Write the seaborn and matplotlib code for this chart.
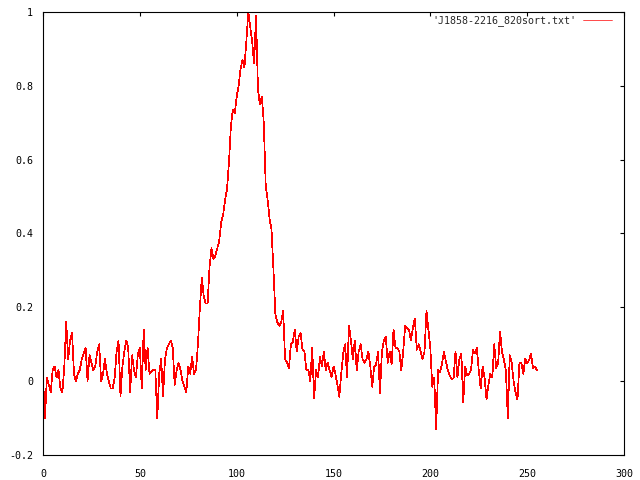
import matplotlib
matplotlib.use('Agg')
import matplotlib.pyplot as plt
import numpy as np
import pandas as pd
import seaborn as sns

# pulse profile, one value per phase bin (0..255)
flux = [
    0.01, -0.10, 0.01, -0.01, -0.03, 0.03, 0.04, 0.01, 0.03, -0.02,
    -0.03, 0.04, 0.16, 0.06, 0.11, 0.13, 0.02, 0.00, 0.02, 0.03,
    0.06, 0.075, 0.09, 0.00, 0.07, 0.05, 0.03, 0.04, 0.08, 0.10,
    0.00, 0.02, 0.06, 0.02, 0.00, -0.02, -0.02, 0.01, 0.08, 0.11,
    -0.04, 0.04, 0.08, 0.11, 0.09, -0.03, 0.07, 0.03, 0.01, 0.075,
    0.09, -0.02, 0.14, 0.03, 0.09, 0.02, 0.025, 0.03, 0.03, -0.10,
    0.02, 0.06, -0.04, 0.06, 0.09, 0.10, 0.11, 0.09, -0.01, 0.03,
    0.05, 0.03, 0.00, -0.015, -0.03, 0.04, 0.02, 0.065, 0.02, 0.03,
    0.10, 0.20, 0.28, 0.23, 0.21, 0.21, 0.31, 0.36, 0.33, 0.34,
    0.36, 0.38, 0.43, 0.45, 0.49, 0.52, 0.59, 0.69, 0.735, 0.725,
    0.77, 0.80, 0.845, 0.87, 0.85, 0.92, 1.00, 0.96, 0.92, 0.86,
    0.99, 0.79, 0.75, 0.77, 0.70, 0.53, 0.49, 0.44, 0.41, 0.30,
    0.18, 0.16, 0.15, 0.16, 0.19, 0.06, 0.05, 0.035, 0.10, 0.105,
    0.14, 0.08, 0.12, 0.13, 0.085, 0.08, 0.03, 0.03, 0.00, 0.09,
    -0.045, 0.03, 0.01, 0.066, 0.04, 0.08, 0.03, 0.05, 0.03, 0.01,
    0.04, 0.02, -0.01, -0.042, 0.02, 0.075, 0.10, 0.01, 0.15, 0.11,
    0.06, 0.11, 0.03, 0.08, 0.10, 0.06, 0.05, 0.06, 0.08, 0.04,
    -0.015, 0.04, 0.045, 0.08, -0.033, 0.08, 0.11, 0.12, 0.05, 0.08,
    0.045, 0.14, 0.09, 0.09, 0.08, 0.03, 0.08, 0.15, 0.145, 0.138,
    0.11, 0.145, 0.17, 0.085, 0.10, 0.08, 0.06, 0.08, 0.19, 0.14,
    0.09, -0.015, 0.01, -0.13, 0.03, 0.025, 0.045, 0.08, 0.055, 0.03,
    0.015, 0.005, 0.008, 0.08, 0.01, 0.06, 0.075, -0.056, 0.04, 0.016,
    0.02, 0.03, 0.084, 0.075, 0.09, 0.03, -0.02, 0.04, 0.01, -0.05,
    -0.01, 0.02, 0.01, 0.10, 0.035, 0.05, 0.134, 0.08, 0.057, 0.03,
    -0.10, 0.07, 0.05, 0.00, -0.03, -0.05, 0.05, 0.05, 0.02, 0.06,
    0.048, 0.057, 0.075, 0.035, 0.04, 0.03,
]
bins = np.arange(len(flux))

x_ticks = [0, 50, 100, 150, 200, 250, 300]
y_ticks = [-0.2, 0, 0.2, 0.4, 0.6, 0.8, 1]
y_tick_labels = ['-0.2', '0', '0.2', '0.4', '0.6', '0.8', '1']
series_name = "'J1858-2216_820sort.txt'"

sns.set_style('white')
plt.rcParams['font.family'] = ['DejaVu Sans Mono']

df = pd.DataFrame({'bin': bins, 'flux': flux, 'file': series_name})

fig = plt.figure(figsize=(6.4, 4.8), dpi=100)
ax = fig.add_axes([43 / 640, 25 / 480, 581 / 640, 443 / 480])

sns.lineplot(data=df, x='bin', y='flux', hue='file', palette=['#ff0000'],
             lw=0.5, antialiased=False, ax=ax)

ax.set_xlim(0, 300)
ax.set_ylim(-0.2, 1)
ax.set_xticks(x_ticks)
ax.set_xticklabels([str(t) for t in x_ticks])
ax.set_yticks(y_ticks)
ax.set_yticklabels(y_tick_labels)
ax.tick_params(direction='in', length=3, width=0.8, labelsize=7.2,
               top=True, right=True, colors='black')
ax.tick_params(axis='x', pad=10)
ax.tick_params(axis='y', pad=7)
ax.set_xlabel('')
ax.set_ylabel('')
for s in ax.spines.values():
    s.set_color('black')
    s.set_linewidth(0.8)

ax.legend(loc='upper right', frameon=False, fontsize=7.2, markerfirst=False,
          handlelength=2.9, handletextpad=0.7, borderpad=0, borderaxespad=0,
          bbox_to_anchor=(612 / 640, 1 - 15 / 480),
          bbox_transform=fig.transFigure)

fig.savefig('out.png', dpi=100)
plt.close(fig)
